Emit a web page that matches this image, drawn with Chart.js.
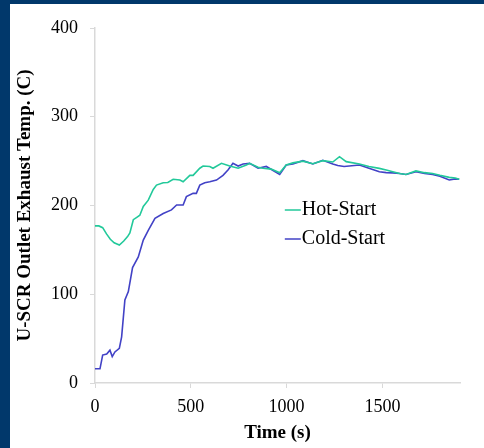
<!DOCTYPE html>
<html>
<head>
<meta charset="utf-8">
<script src="https://cdn.jsdelivr.net/npm/chart.js@4"></script>
<style>
  html, body { margin: 0; padding: 0; background: #01386b; }
  #wrap { position: absolute; left: 10px; top: 4px; width: 474px; height: 444px; background: #fff; }
</style>
</head>
<body>
<div id="wrap"><canvas id="chart"></canvas></div>
<script>
// Hot-start run
const hotTime = [0, 20, 40, 60, 80, 100, 127, 150, 170, 182,
    200, 220, 234, 252, 278, 304, 321, 356, 380, 408,
    443, 460, 495, 512, 547, 564, 599, 616, 660, 703,
    747, 790, 807, 851, 877, 920, 964, 998, 1033, 1085,
    1137, 1189, 1241, 1276, 1311, 1380, 1430, 1484, 1520, 1554,
    1590, 1623, 1675, 1720, 1762, 1800, 1849, 1880, 1901];
const hotTemp = [177, 177, 175, 168, 162, 158, 155.5, 160, 165, 169,
    184, 187, 189, 199, 206, 218, 223, 225.7, 226, 229.5,
    228.7, 226.8, 234, 234, 242, 244.5, 244, 242, 247.5, 244.5,
    242, 245.6, 247.5, 243, 242, 241, 237, 245.6, 248, 250,
    247, 250.5, 249, 255, 249.4, 246.8, 244, 241.8, 240, 238,
    236, 235, 239, 237, 236, 234, 231.7, 231, 229.5];

// Cold-start run
const coldTime = [0, 26, 40, 61, 78, 90, 104, 127, 139, 156,
    174, 196, 226, 252, 278, 313, 356, 399, 426, 460,
    477, 512, 529, 547, 573, 599, 634, 668, 694, 720,
    747, 773, 807, 851, 894, 964, 998, 1033, 1085, 1137,
    1189, 1241, 1267, 1300, 1380, 1430, 1484, 1520, 1554, 1590,
    1623, 1675, 1720, 1762, 1800, 1849, 1880, 1901];
const coldTemp = [16, 16, 31.5, 32.7, 37, 29.7, 35, 39, 52, 93.5,
    103, 130, 142, 161, 172, 185.5, 191, 195, 200.6, 200.6,
    210, 213.7, 213.7, 223, 225.7, 226.8, 228.7, 234, 240, 247.5,
    244.5, 246.8, 247.5, 242, 244, 235, 245.6, 246.8, 250.5, 246.8,
    251, 246.8, 245, 244, 245.6, 242, 238, 237, 236.8, 236,
    235, 238, 236, 235, 233, 228.7, 230, 229.5];

const seriesNames = ['Hot-Start', 'Cold-Start'];
const xTicks = [0, 500, 1000, 1500];

const serif = '"Liberation Serif", "Times New Roman", serif';

function points(ts, vs) {
    return ts.map((t, i) => ({ x: t, y: vs[i] }));
}

// legend drawn inside the plot, like the original
const innerLegend = {
    id: 'innerLegend',
    afterDraw(chart) {
        const ctx = chart.ctx;
        const area = chart.chartArea;
        const x0 = area.left + 0.52 * (area.right - area.left);
        let y = area.top + 182;
        ctx.save();
        ctx.font = '20px ' + serif;
        ctx.textBaseline = 'middle';
        chart.data.datasets.forEach(ds => {
            ctx.strokeStyle = ds.borderColor;
            ctx.lineWidth = 1.5;
            ctx.beginPath();
            ctx.moveTo(x0, y);
            ctx.lineTo(x0 + 16, y);
            ctx.stroke();
            ctx.fillStyle = '#000';
            ctx.fillText(ds.label, x0 + 17, y);
            y += 29;
        });
        ctx.restore();
    }
};

new Chart(document.getElementById('chart'), {
    type: 'line',
    data: {
        datasets: [{
            label: seriesNames[0],
            data: points(hotTime, hotTemp),
            borderColor: '#22c99a',
            borderWidth: 1.6,
            pointRadius: 0,
            tension: 0
        }, {
            label: seriesNames[1],
            data: points(coldTime, coldTemp),
            borderColor: '#4242c6',
            borderWidth: 1.6,
            pointRadius: 0,
            tension: 0
        }]
    },
    options: {
        responsive: true,
        maintainAspectRatio: false,
        animation: false,
        layout: { padding: { top: 24, right: 24, left: 0, bottom: 0 } },
        plugins: {
            legend: { display: false },
            tooltip: { enabled: false }
        },
        scales: {
            x: {
                type: 'linear',
                min: 0,
                max: 1905,
                afterBuildTicks: s => { s.ticks = xTicks.map(v => ({ value: v })); },
                afterFit: s => { s.height = 65; },
                grid: { drawOnChartArea: false, color: '#d9d9d9', tickLength: 5 },
                border: { color: '#d9d9d9', width: 1.5 },
                ticks: { color: '#000', font: { family: serif, size: 18 }, padding: 8, maxRotation: 0,
                    callback: v => String(v) },
                title: { display: true, text: 'Time (s)', color: '#000', font: { family: serif, size: 19, weight: 'bold' }, padding: { top: 2 } }
            },
            y: {
                min: 0,
                max: 400,
                ticks: { stepSize: 100, color: '#000', font: { family: serif, size: 18 }, padding: 12,
                    callback: v => String(v) },
                afterFit: s => { s.width = 85; },
                grid: { drawOnChartArea: false, color: '#d9d9d9', tickLength: 5 },
                border: { color: '#d9d9d9', width: 1.5 },
                title: { display: true, text: 'U-SCR Outlet Exhaust Temp. (C)', color: '#000', font: { family: serif, size: 19, weight: 'bold' }, padding: { top: 4, bottom: 0 } }
            }
        }
    },
    plugins: [innerLegend]
});
</script>
</body>
</html>
